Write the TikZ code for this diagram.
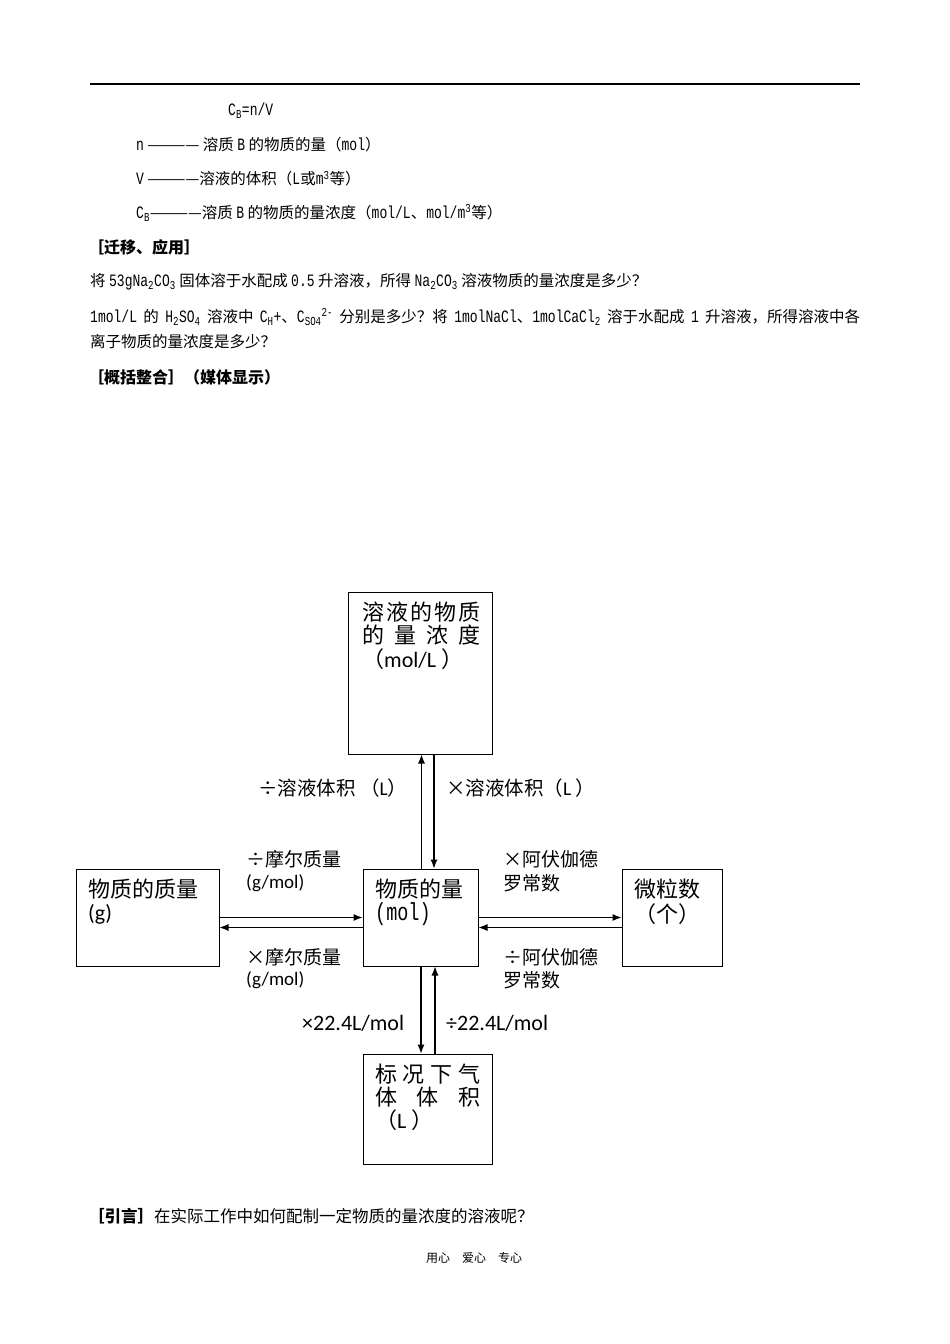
\documentclass[tikz,border=0pt]{standalone}
\usepackage{fontspec}
\setmainfont{Noto Sans CJK SC}
\newfontfamily\hw[Scale=1.12,FakeStretch=0.75]{Liberation Mono}
\newfontfamily\lat{Carlito}
\usetikzlibrary{arrows.meta}
\begin{document}
\begin{tikzpicture}[x=1pt,y=-1pt,
  txt/.style={inner sep=0pt,anchor=west,font=\fontsize{15.5}{17}\selectfont},
  head/.style={inner sep=0pt,anchor=west,font=\fontsize{16}{18}\selectfont\bfseries},
  lab/.style={inner sep=0pt,anchor=west,font=\fontsize{19}{22}\selectfont},
  boxt/.style={inner sep=0pt,anchor=west,font=\fontsize{22}{24}\selectfont},
  box/.style={draw,line width=1pt,inner sep=0pt},
  arr/.style={line width=1.1pt,-{Latex[length=9pt,width=7pt]}}]
\useasboundingbox[fill=white] (0,0) rectangle (950,1344);
% header rule
\draw[line width=1.5pt] (90,84) -- (860,84);
% text above
\node[txt] (l1) at (228,111) {\hw C\textsubscript{B}=n/V};
\node[txt] (l2) at (136,145) {{\hw n} ———— 溶质 {\hw B} 的物质的量（{\hw mol}）};
\node[txt] (l3) at (136,179) {{\hw V} ————溶液的体积（{\hw L}或{\hw m\textsuperscript{3}}等）};
\node[txt] (l4) at (136,213) {{\hw C\textsubscript{B}}————溶质 {\hw B} 的物质的量浓度（{\hw mol/L}、{\hw mol/m\textsuperscript{3}}等）};
\node[head] (l5) at (88,247) {［迁移、应用］};
\node[txt] (l6) at (90,282) {将 {\hw 53gNa\textsubscript{2}CO\textsubscript{3}} 固体溶于水配成 {\hw 0.5} 升溶液，所得 {\hw Na\textsubscript{2}CO\textsubscript{3}} 溶液物质的量浓度是多少？};
\node[txt] (l7) at (90,317) {\makebox[770pt][s]{{\hw 1mol/L} 的 {\hw H\textsubscript{2}SO\textsubscript{4}} 溶液中 {\hw C\textsubscript{H}+}、{\hw C\textsubscript{SO4}\textsuperscript{2-}} 分别是多少？将 {\hw 1molNaCl}、{\hw 1molCaCl\textsubscript{2}} 溶于水配成 {\hw 1} 升溶液，所得溶液中各}};
\node[txt] (l8) at (90,342) {离子物质的量浓度是多少？};
\node[head] (l9) at (88,377) {［概括整合］（媒体显示）};
% boxes
\node[box,minimum width=144pt,minimum height=162pt] (top) at (420,673) {};
\node[box,minimum width=115pt,minimum height=97pt] (cen) at (420.5,917.5) {};
\node[box,minimum width=143pt,minimum height=97pt] (lft) at (147.5,917.5) {};
\node[box,minimum width=100pt,minimum height=97pt] (rgt) at (672,917.5) {};
\node[box,minimum width=129pt,minimum height=110pt] (bot) at (427.5,1109) {};
% box texts
\node[boxt] (t1) at (362,612) {\makebox[118pt]{溶\hfill 液\hfill 的\hfill 物\hfill 质}};
\node[boxt] (t2) at (362,635) {\makebox[118pt]{的\hfill 量\hfill 浓\hfill 度}};
\node[boxt] (t3) at (362,659) {（{\lat mol/L} ）};
\node[boxt] (c1) at (375,889) {物质的量};
\node[boxt] (c2) at (375,914) {\hw (mol)};
\node[boxt] (m1) at (88,889) {物质的质量};
\node[boxt] (m2) at (88,914) {\lat (g)};
\node[boxt] (r1) at (634,889) {微粒数};
\node[boxt] (r2) at (634,914) {（个）};
\node[boxt] (b1) at (375,1074) {\makebox[105pt]{标\hfill 况\hfill 下\hfill 气}};
\node[boxt] (b2) at (375,1097) {\makebox[105pt]{体\hfill 体\hfill 积}};
\node[boxt] (b3) at (375,1120) {（{\lat L} ）};
% arrows
\draw[arr] ([xshift=1pt]cen.north) -- ([xshift=1pt]cen.north |- top.south);
\draw[arr] ([xshift=13.5pt]cen.north |- top.south) -- ([xshift=13.5pt]cen.north);
\draw[arr] ([xshift=0.5pt]cen.south) -- ([xshift=0.5pt]cen.south |- bot.north);
\draw[arr] ([xshift=14.5pt]cen.south |- bot.north) -- ([xshift=14.5pt]cen.south);
\draw[arr] (lft.east) -- (cen.west);
\draw[arr] ([yshift=-10pt]cen.west) -- ([yshift=-10pt]lft.east);
\draw[arr] (cen.east) -- (rgt.west);
\draw[arr] ([yshift=-10pt]rgt.west) -- ([yshift=-10pt]cen.east);
% arrow labels
\node[lab,font=\fontsize{19.5}{21}\selectfont] (a1) at (258,788) {÷溶液体积 （{\lat L}）};
\node[lab,font=\fontsize{19.5}{21}\selectfont] (a2) at (446,788) {×溶液体积（{\lat L} ）};
\node[lab] (a3) at (246,859) {÷摩尔质量};
\node[lab] (a4) at (246,883) {\lat (g/mol)};
\node[lab] (a5) at (246,957) {×摩尔质量};
\node[lab] (a6) at (246,980) {\lat (g/mol)};
\node[lab] (a7) at (503,859) {×阿伏伽德};
\node[lab] (a8) at (503,883) {罗常数};
\node[lab] (a9) at (503,957) {÷阿伏伽德};
\node[lab] (a10) at (503,980) {罗常数};
\node[lab,font=\fontsize{22}{24}\selectfont\lat] (a11) at (302,1023) {×22.4L/mol};
\node[lab,font=\fontsize{22}{24}\selectfont\lat] (a12) at (446,1023) {÷22.4L/mol};
% bottom text
\node[txt,font=\fontsize{16.5}{18}\selectfont] (l10) at (88,1216) {\textbf{［引言］}在实际工作中如何配制一定物质的量浓度的溶液呢？};
\node[txt,font=\fontsize{12}{14}\selectfont] (l11) at (426,1258) {用心\hspace{12pt}爱心\hspace{12pt}专心};
\end{tikzpicture}
\end{document}
